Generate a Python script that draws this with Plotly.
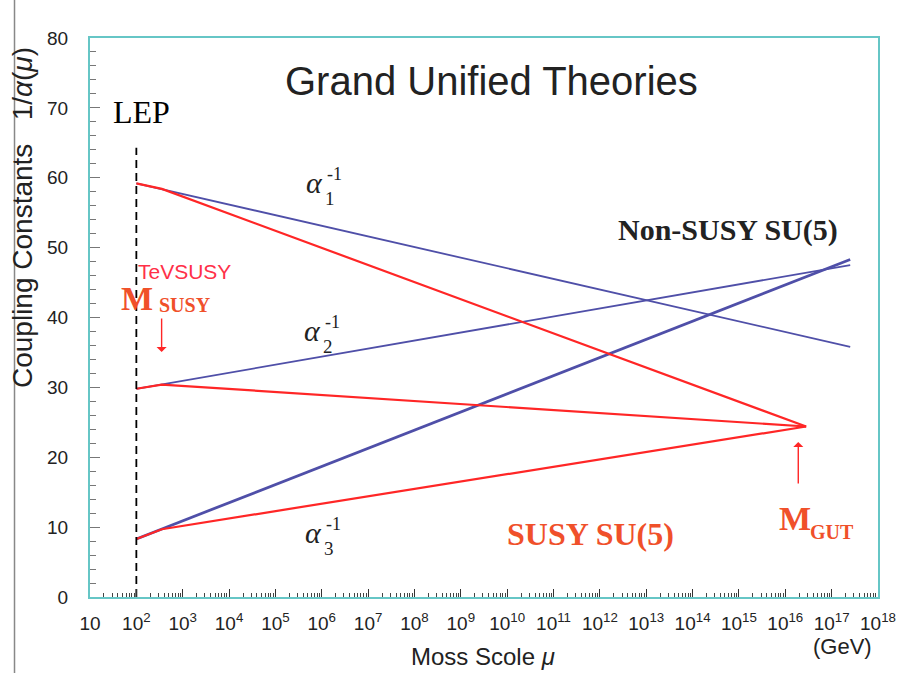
import plotly.graph_objects as go

# Energy scales, log10(mu / GeV)
lep_scale = 2.0
msusy_scale = 2.55
mgut_scale = 16.45
sm_end_scale = 17.4
lep_line_top = 64.3

# Inverse gauge couplings 1/alpha_i for i = 1, 2, 3
alpha_inv_lep = [59.2, 29.8, 8.3]        # measured at the LEP scale
alpha_inv_sm_end = [35.8, 47.5, 48.3]    # Standard Model running, at the end scale
alpha_inv_msusy = [58.4, 30.4, 9.7]      # at the SUSY threshold
alpha_inv_gut = [24.4, 24.4, 24.4]       # SUSY running meets at M_GUT

blue = "#4f4fa8"
red = "#ff2626"
orange = "#f0502a"
teal = "#66c6c6"
serif = "Liberation Serif"
sans = "Liberation Sans"

fig = go.Figure()

# Non-SUSY running (straight lines in log mu)
for i in range(3):
    fig.add_trace(go.Scatter(
        x=[10 ** lep_scale, 10 ** sm_end_scale],
        y=[alpha_inv_lep[i], alpha_inv_sm_end[i]],
        mode="lines", line=dict(color=blue, width=2.8 if i == 2 else 1.8),
        showlegend=False, hoverinfo="skip"))

# SUSY running: SM slope up to M_SUSY, then towards the unification point
for i in range(3):
    fig.add_trace(go.Scatter(
        x=[10 ** lep_scale, 10 ** msusy_scale, 10 ** mgut_scale],
        y=[alpha_inv_lep[i], alpha_inv_msusy[i], alpha_inv_gut[i]],
        mode="lines", line=dict(color=red, width=2.2),
        showlegend=False, hoverinfo="skip"))

# LEP energy marker
fig.add_trace(go.Scatter(
    x=[10 ** lep_scale, 10 ** lep_scale], y=[0, lep_line_top],
    mode="lines", line=dict(color="black", width=1.8, dash="8px,5px"),
    showlegend=False, hoverinfo="skip"))

decades = list(range(1, 19))
tick_vals = [10 ** k for k in decades]
tick_text = ["10" if k == 1 else f"10<sup>{k}</sup>" for k in decades]

ann = []


def txt(x, y, text, size, color="black", family=serif, **kw):
    ann.append(dict(x=x, y=y, xref="x", yref="y", text=text, showarrow=False,
                    xanchor="center", yanchor="middle",
                    font=dict(size=size, color=color, family=family), **kw))


def ptxt(x, y, text, size, color="#222", family=sans, **kw):
    ann.append(dict(x=x, y=y, xref="paper", yref="paper", text=text, showarrow=False,
                    xanchor="center", yanchor="middle",
                    font=dict(size=size, color=color, family=family), **kw))


txt(9.67, 73.9, "Grand Unified Theories", 40, "#222", sans)
txt(2.12, 69.4, "LEP", 32)

# alpha labels with stacked sub/superscripts
for (ax_, ay_), sub in [((5.85, 59.25), "1"), ((5.81, 38.1), "2"), ((5.83, 9.2), "3")]:
    txt(ax_, ay_, "<i>α</i>", 30, "#222")
    txt(ax_ + 0.33, ay_ - 2.2, sub, 19, "#222")
    txt(ax_ + 0.42, ay_ + 1.3, "-1", 18, "#222")

txt(14.76, 52.5, "<b>Non-SUSY SU(5)</b>", 30, "#222")
txt(11.80, 9.0, "<b>SUSY SU(5)</b>", 32, orange)
txt(3.04, 46.65, "TeVSUSY", 21, "#ff3048", sans)
txt(2.01, 42.65, "<b>M</b>", 34, orange)
txt(3.04, 41.8, "<b>SUSY</b>", 20, orange)
txt(16.20, 11.3, "<b>M</b>", 34, orange)
txt(17.01, 9.3, "<b>GUT</b>", 20, orange)

# arrows pointing at M_SUSY and M_GUT
ann.append(dict(x=2.545, y=35.06, xref="x", yref="y", text="", showarrow=True,
                ax=0, ay=-35, arrowhead=1, arrowsize=1.2, arrowwidth=1.4, arrowcolor=red))
ann.append(dict(x=16.28, y=22.2, xref="x", yref="y", text="", showarrow=True,
                ax=0, ay=43, arrowhead=1, arrowsize=1.2, arrowwidth=1.4, arrowcolor=red))

# labels below and beside the plotting area
ptxt(0.955, -0.089, "(GeV)", 22)
ptxt(0.499, -0.107, "Moss Scole <i>μ</i>", 24)
ptxt(-0.085, 0.678, "Coupling Constants   1/<i>α</i>(<i>μ</i>)", 28, textangle=-90)

fig.update_layout(
    width=908, height=673,
    margin=dict(l=90, r=26, t=38, b=76),
    paper_bgcolor="white", plot_bgcolor="white",
    annotations=ann,
    shapes=[dict(type="line", xref="paper", yref="paper", x0=-0.0958, x1=-0.0958,
                 y0=-0.136, y1=1.068, line=dict(color="#888", width=1.5))],
)

fig.update_xaxes(
    type="log", range=[1, 18], showgrid=False, zeroline=False,
    tickvals=tick_vals, ticktext=tick_text,
    ticks="inside", ticklen=8, tickcolor="#333", tickwidth=1.2,
    minor=dict(ticks="inside", ticklen=4, tickcolor="#444", dtick="D1", showgrid=False),
    tickfont=dict(family=sans, size=19, color="#222"),
    ticklabelstandoff=8,
    showline=True, linecolor=teal, linewidth=2, mirror=True,
)
fig.update_yaxes(
    range=[0, 80], showgrid=False, zeroline=False,
    tickvals=[0, 10, 20, 30, 40, 50, 60, 70, 80],
    ticks="inside", ticklen=10, tickcolor="#777", tickwidth=1.2,
    minor=dict(ticks="inside", ticklen=6, tickcolor="#777", dtick=2, showgrid=False),
    tickfont=dict(family=sans, size=19, color="#222"),
    ticklabelstandoff=16,
    showline=True, linecolor=teal, linewidth=2, mirror=True,
)

fig.write_html("out.html")
